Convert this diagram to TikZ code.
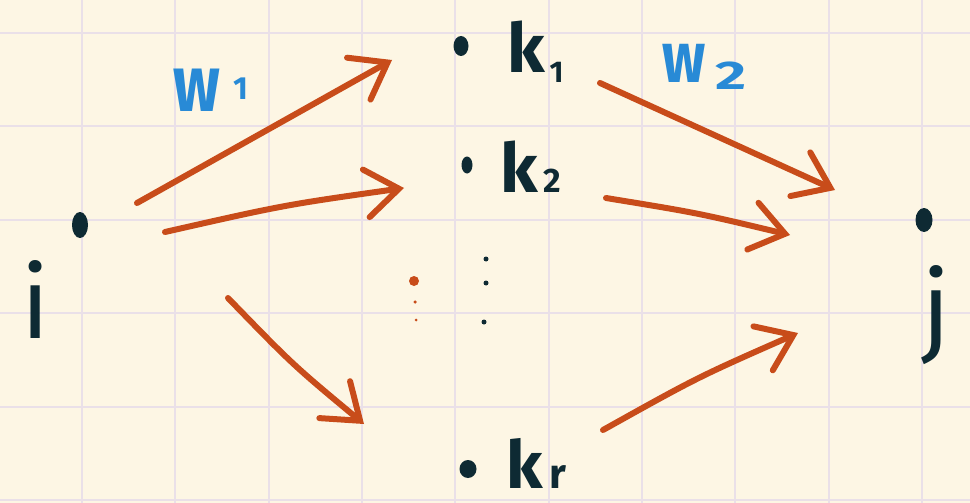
\documentclass[tikz,border=0pt]{standalone}
\usepackage{fontspec}
\newfontfamily\hand{Fira Sans}
\usetikzlibrary{arrows.meta,calc}
\definecolor{paper}{RGB}{253,246,228}
\definecolor{gridc}{RGB}{234,224,232}
\definecolor{ink}{RGB}{14,42,51}
\definecolor{rust}{RGB}{200,76,26}
\definecolor{sky}{RGB}{40,138,214}
\begin{document}
\begin{tikzpicture}[x=1pt,y=-1pt,
  dotfill/.style={fill=ink},
  vdot/.style={circle,fill=#1,draw=none,inner sep=0pt},
  lbl/.style={text=ink,inner sep=0pt},
  wlbl/.style={text=sky,inner sep=0pt,font=\hand\bfseries\fontsize{80}{80}\selectfont},
  arr/.style={draw=rust,line width=6pt,line cap=round,line join=round,
    -{Straight Barb[length=33pt,width=48pt,line cap=round]}},
  ]
\fill[paper] (0,0) rectangle (970,503);
\useasboundingbox (0,0) rectangle (970,503);
\foreach \n in {0,...,9} \draw[gridc,line width=2pt] ({82+93.33*\n},0) -- ({82+93.33*\n},503);
\foreach \n in {0,...,5} \draw[gridc,line width=2pt] (0,{33+93.4*\n}) -- (970,{33+93.4*\n});

% points
\coordinate (i) at (80,225);
\coordinate (k1) at (461,46);
\coordinate (k2) at (467,165);
\coordinate (kr) at (468,469);
\coordinate (j) at (924,220);
\fill[dotfill] (i) circle[x radius=8pt,y radius=13pt];
\fill[dotfill] (k1) circle[x radius=7.5pt,y radius=10pt];
\fill[dotfill] (k2) circle[x radius=5.5pt,y radius=8.5pt];
\fill[dotfill] (kr) circle[x radius=8.5pt,y radius=9pt];
\fill[dotfill] (j) circle[x radius=8.5pt,y radius=12pt];

% labels
\node[lbl,font=\hand\fontsize{100}{100}\selectfont,anchor=base] (il) at (36,338) {i};
\node[lbl,font=\hand\fontsize{100}{100}\selectfont,anchor=base] (jl) at (936,343) {j};
\node[lbl,font=\hand\bfseries\fontsize{68}{68}\selectfont,anchor=base west] (k1l) at (507,73)
  {k\raisebox{-10pt}{\fontsize{30}{30}\selectfont\,1}};
\node[lbl,font=\hand\bfseries\fontsize{68}{68}\selectfont,anchor=base west] (k2l) at (500,192)
  {k{\fontsize{34}{34}\selectfont\,2}};
\node[lbl,font=\hand\bfseries\fontsize{66}{66}\selectfont,anchor=base west,text depth=0pt] (krl) at (506,488)
  {k{\fontsize{42}{42}\selectfont\,r}};
\node[wlbl,anchor=base west] (w1) at (173,112)
  {\scalebox{0.78}[1]{w}\raisebox{13pt}{\fontsize{32}{32}\selectfont\hspace{14pt}1}};
\node[wlbl,anchor=base west,font=\hand\bfseries\fontsize{72}{72}\selectfont] (w2) at (662,83)
  {\scalebox{0.8}[1]{w}\raisebox{-7pt}{\fontsize{40}{40}\selectfont\hspace{10pt}\scalebox{1.5}[1]{2}}};

% vertical ellipsis dots
\node[vdot=rust,minimum size=10pt] (o1) at (414,281) {};
\node[vdot=rust,minimum size=3.5pt] (o2) at (415,302) {};
\node[vdot=rust,minimum size=3pt] (o3) at (416,320) {};
\node[vdot=ink,minimum size=5pt] (b1) at (486,259) {};
\node[vdot=ink,minimum size=5pt] (b2) at (486,283) {};
\node[vdot=ink,minimum size=5pt] (b3) at (484,322) {};

% connectors
\draw[arr] ($(i)+(57,-22)$) -- ($(k1)+(-69,14)$);
\draw[arr] ($(i)+(85,7)$) .. controls ($(i)+(204,-20)$) .. ($(k2)+(-63,23)$);
\draw[arr] ($(i)+(148,73)$) .. controls ($(i)+(213,140)$) .. ($(kr)+(-104,-45)$);
\draw[arr] ($(k1)+(139,37)$) -- ($(j)+(-89,-30)$);
\draw[arr] ($(k2)+(139,33)$) .. controls ($(k2)+(231,48)$) .. ($(j)+(-134,15)$);
\draw[arr] ($(kr)+(135,-39)$) .. controls ($(kr)+(230,-92)$) .. ($(j)+(-126,113)$);
\end{tikzpicture}
\end{document}
